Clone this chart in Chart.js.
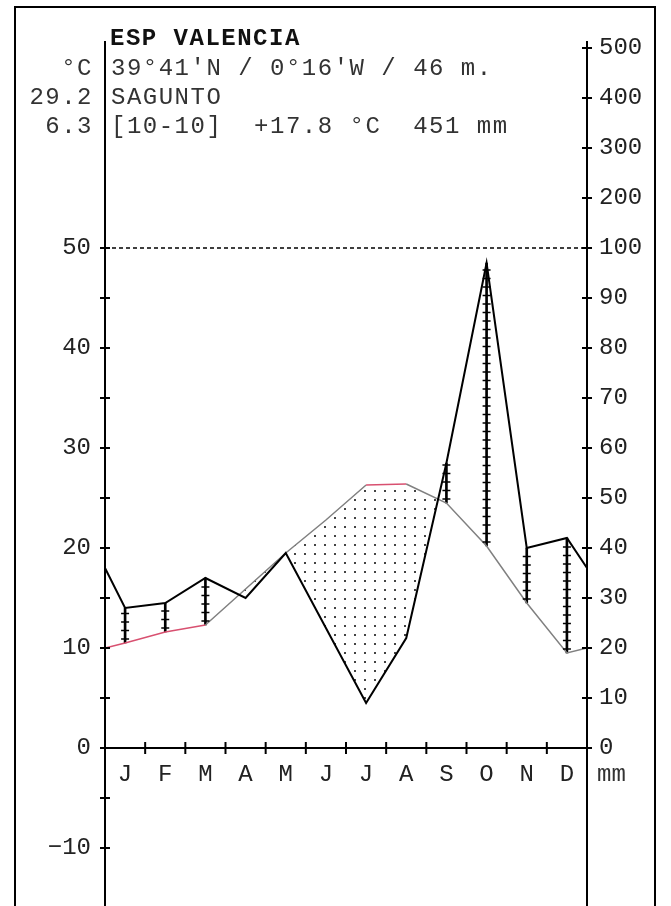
<!DOCTYPE html>
<html>
<head>
<meta charset="utf-8">
<script src="https://cdn.jsdelivr.net/npm/chart.js@4.4.1/dist/chart.umd.min.js"></script>
<style>
  html, body { margin: 0; padding: 0; background: #fff; }
  #wrap { width: 671px; height: 906px; position: relative; }
</style>
</head>
<body>
<div id="wrap"><canvas id="c" width="671" height="906"></canvas></div>
<script>
// ---- data ----
const months = ['J','F','M','A','M','J','J','A','S','O','N','D'];
const temperatureC = [10.5, 11.6, 12.3, 15.9, 19.5, 22.8, 26.3, 26.4, 24.5, 20.2, 14.5, 9.5];
const precipitationMm = [28, 29, 34, 30, 39, 24, 9, 22, 57, 97, 40, 42];
const edgeTemperatureC = 10.0;      // value where the curve meets both side axes
const edgePrecipitationMm = 36;     // value where the curve meets both side axes
const leftTicksC = [-10, -5, 0, 5, 10, 15, 20, 25, 30, 35, 40, 45, 50];
const rightTicksMm = [0, 10, 20, 30, 40, 50, 60, 70, 80, 90, 100, 200, 300, 400, 500];
const headerLeft = ['°C', '29.2', '6.3'];
const headerTitle = 'ESP VALENCIA';
const headerLines = ["39°41'N / 0°16'W / 46 m.", 'SAGUNTO', '[10-10]  +17.8 °C  451 mm'];
const unitLabel = 'mm';
const redSegments = [0, 1, 2, 7];

// ---- helpers ----
const toT = p => p <= 100 ? p / 2 : 50 + (p - 100) / 20;     // mm -> °C scale (Walter-Lieth)
const toMm = t => t <= 50 ? Math.round(t * 2) : Math.round(100 + (t - 50) * 20);

const tempPts = [{x: 0, y: edgeTemperatureC}]
  .concat(temperatureC.map((t, i) => ({x: i + 0.5, y: t})))
  .concat([{x: 12, y: edgeTemperatureC}]);
const precPts = [{x: 0, y: toT(edgePrecipitationMm)}]
  .concat(precipitationMm.map((p, i) => ({x: i + 0.5, y: toT(p)})))
  .concat([{x: 12, y: toT(edgePrecipitationMm)}]);
const humidBars = temperatureC
  .map((t, i) => ({x: i + 0.5, y: [t, toT(precipitationMm[i])]}))
  .filter(d => d.y[1] > d.y[0]);
const limitLine = [{x: 0, y: 50}, {x: 12, y: 50}];

const FONT = '"Liberation Mono", "DejaVu Sans Mono", monospace';
const canvas = document.getElementById('c');
const ctx0 = canvas.getContext('2d');

function makeDots() {
  const c = document.createElement('canvas');
  c.width = 10; c.height = 9;
  const g = c.getContext('2d');
  g.fillStyle = '#444';
  g.fillRect(4, 4, 2, 2);
  return ctx0.createPattern(c, 'repeat');
}

const crossTicks = {
  id: 'crossTicks',
  afterDraw(chart) {
    const {ctx, chartArea, scales} = chart;
    ctx.save();
    ctx.strokeStyle = '#000';
    ctx.lineWidth = 2;
    const ys = scales.y, y2 = scales.y2, xs = scales.x;
    ys.ticks.forEach(t => {
      const p = ys.getPixelForValue(t.value);
      ctx.beginPath(); ctx.moveTo(chartArea.left - 5, p); ctx.lineTo(chartArea.left + 5, p); ctx.stroke();
    });
    y2.ticks.forEach(t => {
      const p = y2.getPixelForValue(t.value);
      ctx.beginPath(); ctx.moveTo(chartArea.right - 5, p); ctx.lineTo(chartArea.right + 5, p); ctx.stroke();
    });
    const y0 = ys.getPixelForValue(0);
    xs.ticks.forEach(t => {
      const p = xs.getPixelForValue(t.value);
      ctx.beginPath(); ctx.moveTo(p, y0 - 6); ctx.lineTo(p, y0 + 6); ctx.stroke();
    });
    ctx.restore();
  }
};

const hatchTicks = {
  id: 'hatchTicks',
  afterDatasetsDraw(chart) {
    const meta = chart.getDatasetMeta(2);
    const ctx = chart.ctx;
    ctx.save();
    ctx.strokeStyle = '#000';
    ctx.lineWidth = 1.5;
    meta.data.forEach(el => {
      const {x, y, base} = el.getProps(['x', 'y', 'base'], true);
      const top = Math.min(y, base), bot = Math.max(y, base);
      for (let yy = bot - 4; yy > top + 2; yy -= 8.5) {
        ctx.beginPath(); ctx.moveTo(x - 4, yy); ctx.lineTo(x + 4, yy); ctx.stroke();
      }
    });
    ctx.restore();
  }
};

const headerPlugin = {
  id: 'header',
  afterDraw(chart) {
    const {ctx, chartArea, scales} = chart;
    ctx.save();
    // frame
    ctx.strokeStyle = '#000';
    ctx.lineWidth = 2;
    ctx.strokeRect(15, 7, 640, 940);
    // title + info
    ctx.textBaseline = 'alphabetic';
    ctx.letterSpacing = '1.5px';
    ctx.fillStyle = '#111';
    ctx.textAlign = 'left';
    ctx.font = 'bold 24px ' + FONT;
    ctx.fillText(headerTitle, 110, 45);
    ctx.font = '24px ' + FONT;
    ctx.fillStyle = '#333';
    const base = [75, 104, 133];
    headerLines.forEach((s, i) => ctx.fillText(s, 111, base[i]));
    ctx.textAlign = 'right';
    headerLeft.forEach((s, i) => ctx.fillText(s, 93, base[i]));
    // unit label beside month axis
    ctx.letterSpacing = '0px';
    ctx.textAlign = 'left';
    ctx.textBaseline = 'middle';
    ctx.fillText(unitLabel, chartArea.right + 10, scales.y.getPixelForValue(0) + 27);
    ctx.restore();
  }
};

const tickFont = {family: FONT, size: 24};
const noPad = s => { s.paddingTop = 0; s.paddingBottom = 0; };

new Chart(canvas, {
  type: 'line',
  data: {
    datasets: [
      {
        type: 'line', data: tempPts, order: 1,
        borderColor: '#808080', borderWidth: 1.5, pointRadius: 0,
        segment: { borderColor: c => redSegments.includes(c.p0DataIndex) ? '#d85070' : '#808080' },
        fill: { target: 1, above: makeDots(), below: 'rgba(0,0,0,0)' }
      },
      {
        type: 'line', data: precPts, order: 0,
        borderColor: '#000', borderWidth: 2, pointRadius: 0, fill: false
      },
      {
        type: 'bar', data: humidBars, order: 2,
        backgroundColor: '#000', borderWidth: 0, barThickness: 2, grouped: false
      },
      {
        type: 'line', data: limitLine, order: 3,
        borderColor: '#000', borderWidth: 1.5, borderDash: [4, 3], pointRadius: 0, fill: false
      }
    ]
  },
  options: {
    responsive: false,
    animation: false,
    devicePixelRatio: 1,
    layout: { padding: { top: 42, bottom: 0, left: 0, right: 0 } },
    plugins: { legend: { display: false }, tooltip: { enabled: false } },
    scales: {
      x: {
        type: 'linear', min: 0, max: 12, offset: false,
        position: { y: 0 },
        afterFit: s => { s.height = 0; s.paddingLeft = 0; s.paddingRight = 0; },
        grid: { display: true, drawOnChartArea: false, drawTicks: false, offset: false },
        border: { display: true, color: '#000', width: 2 },
        ticks: {
          stepSize: 1, autoSkip: false, maxRotation: 0, labelOffset: 20, padding: 12,
          font: tickFont, color: '#222',
          callback: v => (months[v] !== undefined ? months[v] : '')
        }
      },
      y: {
        type: 'linear', position: 'left', min: -15.8, max: 70.6,
        afterBuildTicks: s => { s.ticks = leftTicksC.map(v => ({value: v})); },
        afterFit: s => { s.width = 105; noPad(s); },
        grid: { display: true, drawOnChartArea: false, drawTicks: false },
        border: { display: true, color: '#000', width: 2 },
        ticks: {
          autoSkip: false, padding: 14, font: tickFont, color: '#222',
          callback: v => (v % 10 === 0 ? (v < 0 ? '\u2212' + Math.abs(v) : String(v)) : '')
        }
      },
      y2: {
        type: 'linear', position: 'right', min: -15.8, max: 70.6,
        afterBuildTicks: s => { s.ticks = rightTicksMm.map(p => ({value: toT(p)})); },
        afterFit: s => { s.width = 84; noPad(s); },
        grid: { display: true, drawOnChartArea: false, drawTicks: false },
        border: { display: true, color: '#000', width: 2 },
        ticks: {
          autoSkip: false, padding: 12, font: tickFont, color: '#222',
          callback: v => String(toMm(v))
        }
      }
    }
  },
  plugins: [crossTicks, hatchTicks, headerPlugin]
});
</script>
</body>
</html>
